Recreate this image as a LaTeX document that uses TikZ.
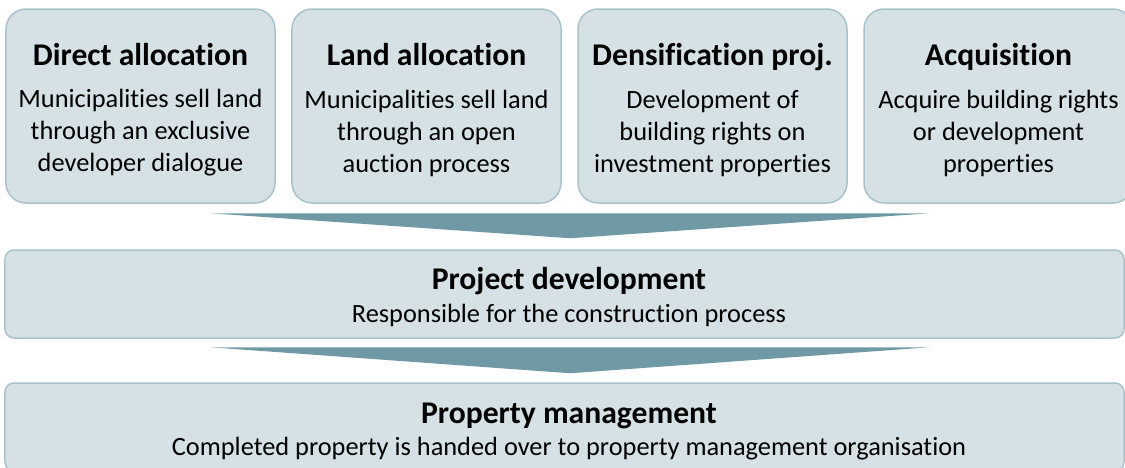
\documentclass[tikz,border=0pt]{standalone}
\usepackage{fontspec}
\setmainfont{Carlito}[RawFeature={-liga;-calt}]
\usetikzlibrary{calc}
\definecolor{boxfill}{HTML}{D5E1E5}
\definecolor{boxline}{HTML}{A9C3CB}
\definecolor{funnelcol}{HTML}{7099A6}

\begin{document}
\begin{tikzpicture}[x=0.2mm, y=-0.2mm,
		topbox/.style={draw=boxline, fill=boxfill, line width=0.3mm, rounded corners=4mm, minimum width=53.8mm, minimum height=38.8mm, inner sep=0pt},
		widebox/.style={draw=boxline, fill=boxfill, line width=0.3mm, rounded corners=1.8mm, minimum width=223.8mm, minimum height=17.6mm, inner sep=0pt},
		ttl/.style={anchor=base, inner sep=0pt, font=\fontsize{18}{21.6}\selectfont\bfseries},
		txt/.style={inner sep=0pt, align=center, font=\fontsize{15}{18.2}\selectfont},
		funnel/.style={fill=funnelcol}]
		\useasboundingbox (0,0) rectangle (1125,468);
		\node[topbox] (da) at (140.5,106) {};
		\node[ttl] (da-t) at (140.5,65) {Direct allocation};
		\node[txt] (da-d) at (140.5,133) {Municipalities sell land\\through an exclusive\\developer dialogue};
		\node[topbox] (la) at (426.5,106) {};
		\node[ttl] (la-t) at (426.5,65) {Land allocation};
		\node[txt] (la-d) at (426.5,133) {Municipalities sell land\\through an open\\auction process};
		\node[topbox] (dp) at (712.5,106) {};
		\node[ttl] (dp-t) at (712.5,65) {Densification proj.};
		\node[txt] (dp-d) at (712.5,133) {Development of\\building rights on\\investment properties};
		\node[topbox] (aq) at (998.5,106) {};
		\node[ttl] (aq-t) at (998.5,65) {Acquisition};
		\node[txt] (aq-d) at (998.5,133) {Acquire building rights\\or development\\properties};
		\node[widebox] (pd) at (564.5,294) {};
		\node[ttl] (pd-t) at (569,289) {Project development};
		\node[txt, anchor=base] (pd-d) at (569,322) {Responsible for the construction process};
		\node[widebox] (pm) at (564.5,427) {};
		\node[ttl] (pm-t) at (569,423) {Property management};
		\node[txt, anchor=base] (pm-d) at (569,455) {Completed property is handed over to property management organisation};
		\fill[funnel] ($(pd.north)+(-354.5,-36)$) -- ($(pd.north)+(365.5,-36)$) -- ($(pd.north)+(5.5,-11)$) -- cycle;
		\fill[funnel] ($(pm.north)+(-354.5,-35)$) -- ($(pm.north)+(365.5,-35)$) -- ($(pm.north)+(5.5,-9)$) -- cycle;
	\end{tikzpicture}
\end{document}
